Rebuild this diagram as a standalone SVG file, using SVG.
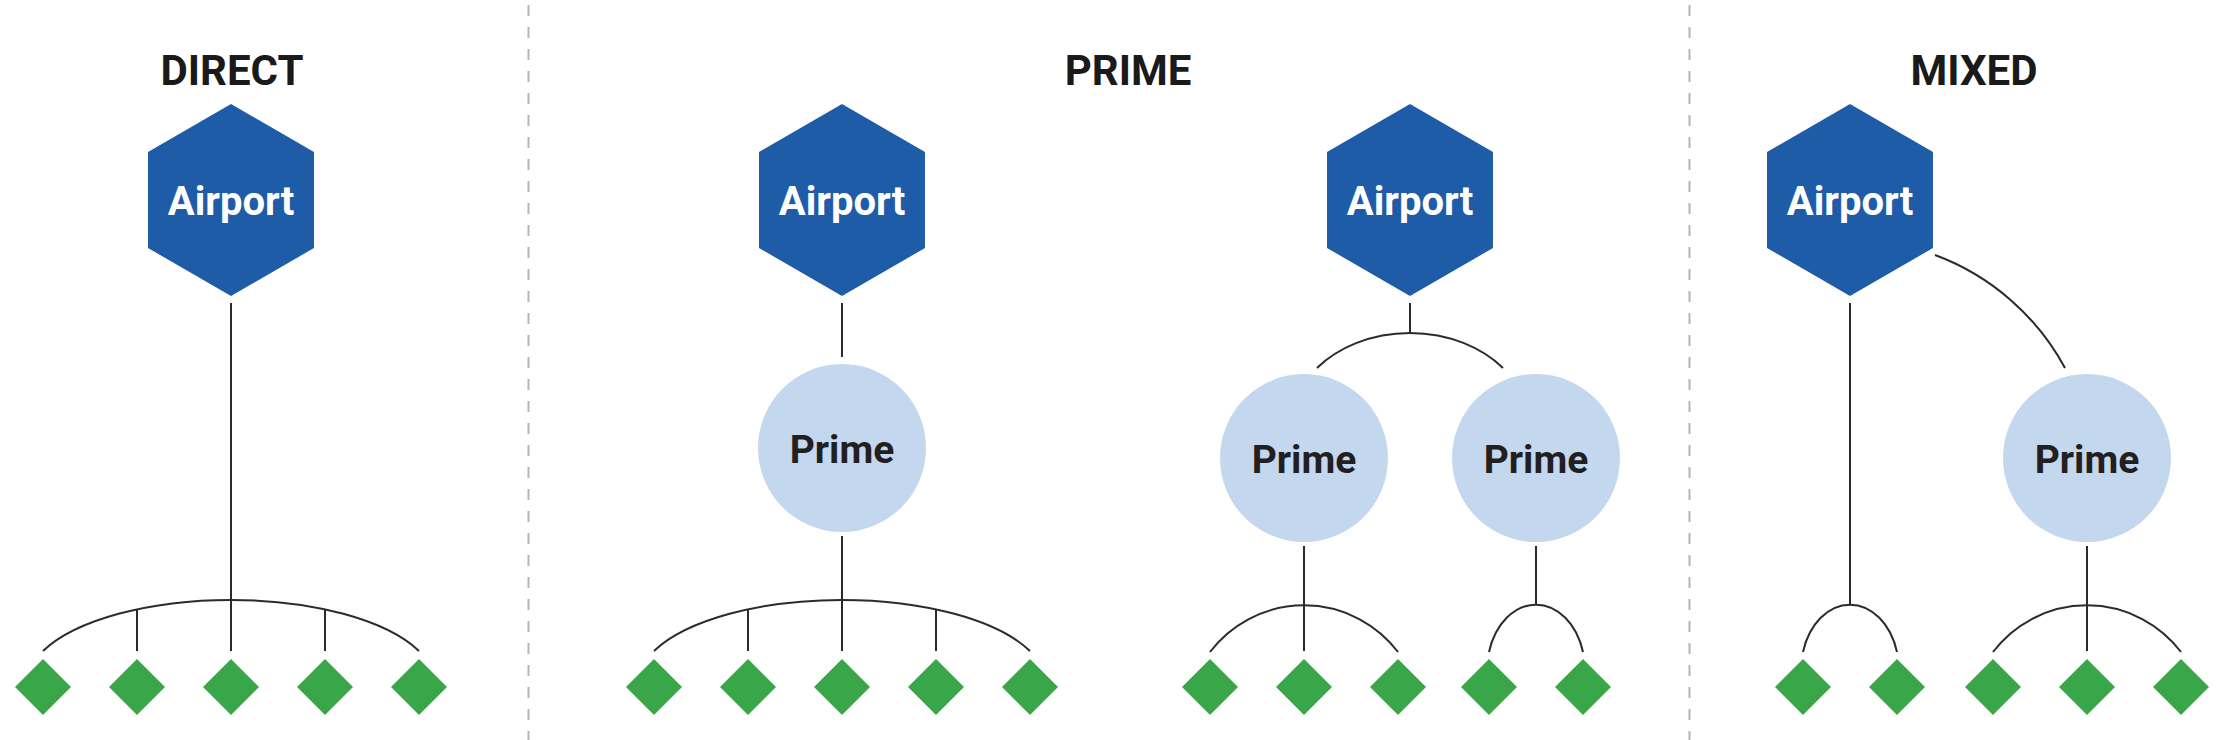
<svg xmlns="http://www.w3.org/2000/svg" width="2219" height="740" viewBox="0 0 2219 740">
<style>
.title{font-family:Roboto,"Liberation Sans",sans-serif;font-weight:700;font-size:42px;fill:#1a1a1a;text-anchor:middle}
.ap{font-family:Roboto,"Liberation Sans",sans-serif;font-weight:700;font-size:40px;fill:#ffffff;text-anchor:middle}
.pr{font-family:Roboto,"Liberation Sans",sans-serif;font-weight:700;font-size:39px;fill:#231f20;text-anchor:middle}
.hex{fill:#1f5ca8}
.prime{fill:#c3d8ef}
.dia{fill:#3aa64a}
.ln{fill:none;stroke:#2b2b2b;stroke-width:2}
.div{stroke:#b4b4bc;stroke-width:2;stroke-dasharray:11 11}
</style>
<defs>
<polygon id="hexShape" points="0,-96 83,-48 83,48 0,96 -83,48 -83,-48"/>
<polygon id="diaShape" points="0,-28 28,0 0,28 -28,0"/>
</defs>
<rect width="2219" height="740" fill="#ffffff"/>
<g id="dividers">
<line class="div" x1="528.5" y1="5" x2="528.5" y2="740"/>
<line class="div" x1="1689.5" y1="5" x2="1689.5" y2="740"/>
</g>
<g id="titles">
<text class="title" x="232" y="85">DIRECT</text>
<text class="title" x="1128" y="85">PRIME</text>
<text class="title" x="1974" y="85">MIXED</text>
</g>
<g id="connectors">
<!-- DIRECT -->
<line class="ln" x1="231" y1="303" x2="231" y2="651"/>
<path class="ln" d="M 43 651 A 205 85 0 0 1 419 651"/>
<line class="ln" x1="137" y1="609.5" x2="137" y2="651"/>
<line class="ln" x1="325" y1="609.5" x2="325" y2="651"/>
<!-- PRIME 1 -->
<line class="ln" x1="842" y1="303" x2="842" y2="357"/>
<line class="ln" x1="842" y1="536" x2="842" y2="651"/>
<path class="ln" d="M 654 651 A 205 85 0 0 1 1030 651"/>
<line class="ln" x1="748" y1="609.5" x2="748" y2="651"/>
<line class="ln" x1="936" y1="609.5" x2="936" y2="651"/>
<!-- PRIME 2 -->
<line class="ln" x1="1410" y1="303" x2="1410" y2="333"/>
<path class="ln" d="M 1317 368 A 120 95 0 0 1 1503 368"/>
<line class="ln" x1="1304" y1="546" x2="1304" y2="651"/>
<path class="ln" d="M 1210 652 A 118 118 0 0 1 1398 652"/>
<line class="ln" x1="1536" y1="546" x2="1536" y2="605"/>
<path class="ln" d="M 1489 652 A 49 66 0 0 1 1583 652"/>
<!-- MIXED -->
<line class="ln" x1="1850" y1="303" x2="1850" y2="605"/>
<path class="ln" d="M 1803 652 A 49 66 0 0 1 1897 652"/>
<path class="ln" d="M 1935 255 A 244 244 0 0 1 2065 368"/>
<line class="ln" x1="2087" y1="546" x2="2087" y2="651"/>
<path class="ln" d="M 1993 652 A 118 118 0 0 1 2181 652"/>
</g>
<g id="airport-direct"><use href="#hexShape" class="hex" x="231" y="200"/><text class="ap" x="231" y="215">Airport</text></g>
<g id="airport-prime1"><use href="#hexShape" class="hex" x="842" y="200"/><text class="ap" x="842" y="215">Airport</text></g>
<g id="airport-prime2"><use href="#hexShape" class="hex" x="1410" y="200"/><text class="ap" x="1410" y="215">Airport</text></g>
<g id="airport-mixed"><use href="#hexShape" class="hex" x="1850" y="200"/><text class="ap" x="1850" y="215">Airport</text></g>
<g id="prime-p1"><circle class="prime" cx="842" cy="448" r="84"/><text class="pr" x="842" y="463">Prime</text></g>
<g id="prime-p2a"><circle class="prime" cx="1304" cy="458" r="84"/><text class="pr" x="1304" y="473">Prime</text></g>
<g id="prime-p2b"><circle class="prime" cx="1536" cy="458" r="84"/><text class="pr" x="1536" y="473">Prime</text></g>
<g id="prime-mixed"><circle class="prime" cx="2087" cy="458" r="84"/><text class="pr" x="2087" y="473">Prime</text></g>
<g id="dest-direct">
<use href="#diaShape" class="dia" x="43" y="687"/><use href="#diaShape" class="dia" x="137" y="687"/><use href="#diaShape" class="dia" x="231" y="687"/><use href="#diaShape" class="dia" x="325" y="687"/><use href="#diaShape" class="dia" x="419" y="687"/>
</g>
<g id="dest-prime1">
<use href="#diaShape" class="dia" x="654" y="687"/><use href="#diaShape" class="dia" x="748" y="687"/><use href="#diaShape" class="dia" x="842" y="687"/><use href="#diaShape" class="dia" x="936" y="687"/><use href="#diaShape" class="dia" x="1030" y="687"/>
</g>
<g id="dest-prime2a">
<use href="#diaShape" class="dia" x="1210" y="687"/><use href="#diaShape" class="dia" x="1304" y="687"/><use href="#diaShape" class="dia" x="1398" y="687"/>
</g>
<g id="dest-prime2b">
<use href="#diaShape" class="dia" x="1489" y="687"/><use href="#diaShape" class="dia" x="1583" y="687"/>
</g>
<g id="dest-mixed-a">
<use href="#diaShape" class="dia" x="1803" y="687"/><use href="#diaShape" class="dia" x="1897" y="687"/>
</g>
<g id="dest-mixed-b">
<use href="#diaShape" class="dia" x="1993" y="687"/><use href="#diaShape" class="dia" x="2087" y="687"/><use href="#diaShape" class="dia" x="2181" y="687"/>
</g>
</svg>
